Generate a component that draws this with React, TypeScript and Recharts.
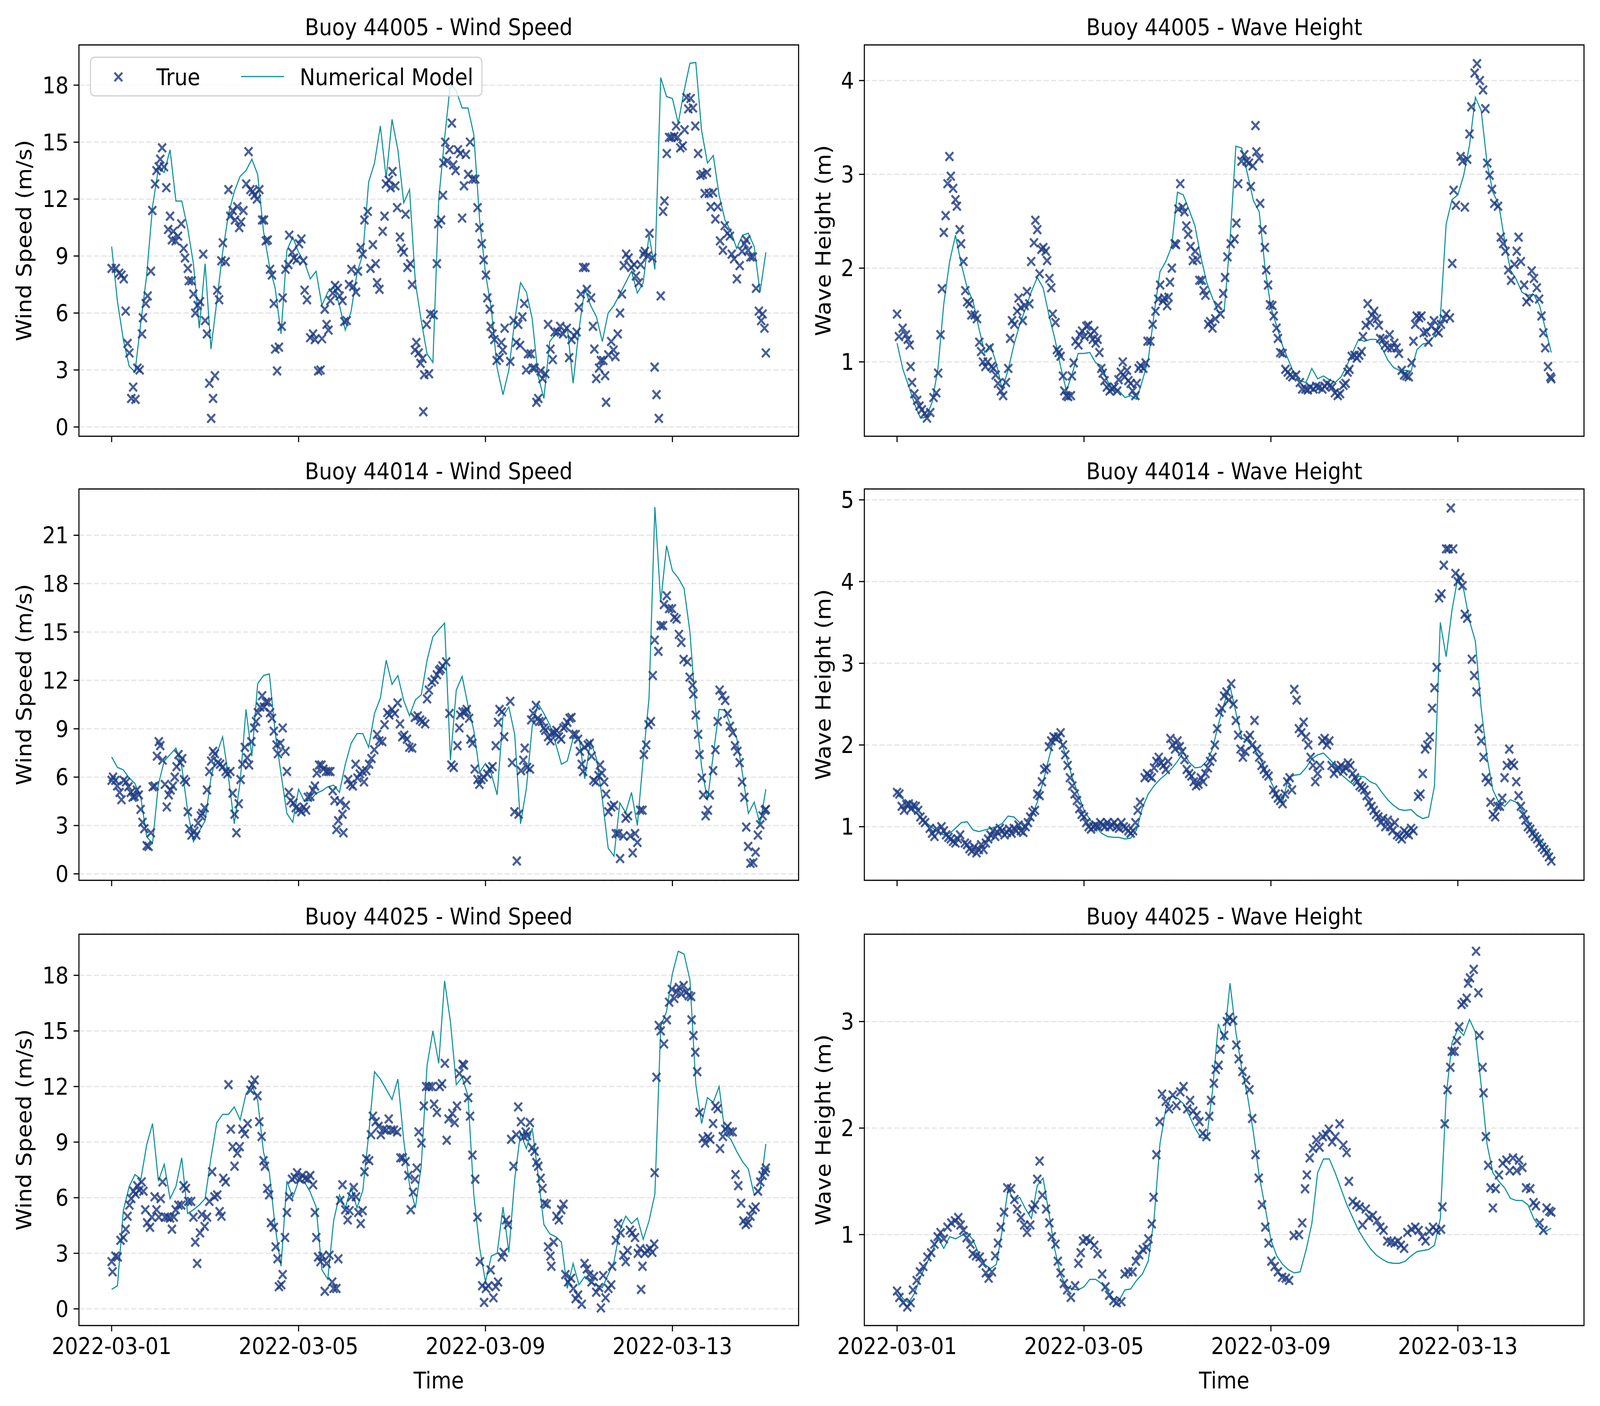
import { useLayoutEffect, useState } from "react";
import {
  ComposedChart,
  Scatter,
  Line,
  XAxis,
  YAxis,
  CartesianGrid,
  Legend,
} from "recharts";

// time axis is in days since 2022-03-01 00:00
const X_DOMAIN: [number, number] = [-0.7, 14.7];
const TICK_DAYS = [0, 4, 8, 12];
const TICK_LABELS = ["2022-03-01", "2022-03-05", "2022-03-09", "2022-03-13"];
const MODEL_STEP = 0.125; // model output every 3 h

const WIND_TICKS_18 = [0, 3, 6, 9, 12, 15, 18];
const WIND_TICKS_21 = [0, 3, 6, 9, 12, 15, 18, 21];
const WAVE_TICKS_4 = [1, 2, 3, 4];
const WAVE_TICKS_5 = [1, 2, 3, 4, 5];
const WAVE_TICKS_3 = [1, 2, 3];

// ---- Buoy 44005 ----
const MODEL_44005_WIND = [
  9.5, 6.6, 4.6, 3.2, 2.9, 5.5, 8.0, 11.6,
  13.6, 13.4, 14.6, 11.9, 11.9, 10.5, 8.6, 5.2,
  8.6, 4.1, 6.6, 9.2, 11.2, 12.4, 13.2, 13.5,
  14.1, 13.3, 10.3, 8.5, 7.3, 4.9, 9.3, 10.0,
  9.2, 8.7, 7.8, 8.2, 6.4, 7.1, 7.4, 6.4,
  5.1, 6.1, 8.1, 9.1, 12.9, 13.9, 15.85, 13.1,
  16.2, 14.6, 11.8, 12.5, 7.6, 5.6, 3.85, 3.4,
  12.0, 15.2, 18.1, 17.7, 16.8, 16.8, 15.4, 10.9,
  8.1, 6.2, 3.1, 1.7, 3.0, 5.6, 7.6, 7.1,
  5.7, 2.7, 1.5, 4.5, 4.9, 4.9, 5.3, 2.3,
  5.1, 7.3, 6.4, 5.8, 4.5, 6.0, 6.4, 7.0,
  7.6, 8.2, 7.05, 7.6, 10.1, 8.3, 18.4, 17.4,
  17.3, 16.0, 17.7, 19.15, 19.2, 15.6, 13.9, 14.3,
  12.2, 10.9, 10.3, 9.4, 10.1, 10.2, 9.5, 7.1,
  9.2,
];

const TRUE_44005_WIND: [number, number][] = [
  [0, 8.35], [0.09, 8.35], [0.16, 8.1], [0.21, 8.0], [0.26, 7.8], [0.3, 6.1], [0.34, 4.4], [0.38, 3.9],
  [0.42, 1.5], [0.46, 2.1], [0.51, 1.45], [0.55, 3.1], [0.6, 3.0], [0.65, 4.9], [0.67, 5.75], [0.73, 6.5],
  [0.77, 6.9], [0.84, 8.2], [0.87, 11.4], [0.93, 12.8], [0.96, 13.5], [1.01, 13.7], [1.04, 14.1], [1.08, 14.7],
  [1.12, 13.7], [1.17, 12.6], [1.21, 10.4], [1.25, 11.1], [1.29, 9.85], [1.32, 10.3], [1.37, 9.8], [1.42, 10.05],
  [1.49, 10.7], [1.54, 9.4], [1.57, 8.9], [1.63, 8.35], [1.65, 7.7], [1.71, 7.7], [1.75, 7.0], [1.79, 6.0],
  [1.84, 6.4], [1.89, 6.6], [1.96, 9.1], [2.0, 5.6], [2.04, 4.9], [2.09, 2.3], [2.13, 0.45], [2.17, 1.5],
  [2.21, 2.7], [2.26, 7.2], [2.3, 6.7], [2.35, 8.75], [2.38, 9.7], [2.44, 8.7], [2.5, 12.5], [2.54, 11.1],
  [2.59, 11.4], [2.64, 10.9], [2.69, 11.6], [2.73, 10.5], [2.77, 10.8], [2.82, 11.4], [2.88, 12.8], [2.93, 14.5],
  [2.97, 12.5], [3.02, 12.4], [3.06, 12.2], [3.11, 12.0], [3.16, 12.5], [3.22, 10.9], [3.26, 10.9], [3.3, 9.8],
  [3.34, 9.85], [3.39, 8.3], [3.43, 8.0], [3.47, 6.5], [3.5, 4.1], [3.54, 2.95], [3.58, 4.2], [3.64, 5.3],
  [3.66, 6.8], [3.72, 8.3], [3.78, 8.55], [3.8, 10.1], [3.86, 9.2], [3.9, 8.9], [3.96, 8.8], [4.01, 9.65],
  [4.06, 9.9], [4.1, 8.75], [4.13, 7.2], [4.18, 6.7], [4.25, 4.7], [4.31, 4.9], [4.35, 4.6], [4.42, 2.95],
  [4.47, 3.0], [4.5, 4.65], [4.56, 6.2], [4.6, 5.4], [4.64, 5.1], [4.68, 6.65], [4.73, 7.05], [4.78, 7.45],
  [4.84, 7.3], [4.88, 6.9], [4.94, 6.65], [4.98, 5.55], [5.03, 5.6], [5.08, 7.5], [5.13, 8.3], [5.17, 7.4],
  [5.23, 7.1], [5.27, 8.2], [5.33, 9.45], [5.37, 9.1], [5.41, 10.9], [5.48, 11.35], [5.54, 8.35], [5.59, 9.6],
  [5.65, 8.6], [5.68, 7.6], [5.73, 7.25], [5.8, 10.3], [5.84, 11.1], [5.87, 12.8], [5.93, 13.0], [5.97, 12.6],
  [6.01, 13.45], [6.07, 12.7], [6.11, 11.55], [6.17, 10.0], [6.2, 9.4], [6.25, 9.2], [6.29, 11.2], [6.33, 8.4],
  [6.39, 8.6], [6.43, 7.5], [6.49, 4.05], [6.52, 4.45], [6.57, 3.9], [6.61, 3.35], [6.65, 3.6], [6.67, 0.8],
  [6.69, 2.75], [6.74, 5.4], [6.79, 2.8], [6.82, 5.95], [6.89, 5.9], [6.96, 8.6], [6.99, 10.7], [7.05, 10.9],
  [7.09, 12.2], [7.1, 13.9], [7.14, 15.0], [7.18, 14.0], [7.23, 14.6], [7.28, 16.0], [7.31, 13.8], [7.36, 13.5],
  [7.41, 14.6], [7.46, 14.4], [7.5, 11.0], [7.54, 12.7], [7.58, 14.35], [7.63, 13.3], [7.67, 15.0], [7.72, 13.05],
  [7.78, 13.05], [7.83, 11.55], [7.87, 10.5], [7.92, 9.65], [7.96, 8.8], [8.01, 8.0], [8.04, 6.8], [8.09, 6.2],
  [8.11, 5.3], [8.15, 4.9], [8.19, 4.6], [8.24, 3.5], [8.3, 3.65], [8.34, 4.45], [8.37, 4.05], [8.41, 5.2],
  [8.53, 3.45], [8.6, 5.6], [8.66, 4.45], [8.7, 5.4], [8.74, 4.3], [8.79, 5.8], [8.83, 6.5], [8.87, 3.0],
  [8.91, 3.85], [8.97, 3.85], [9.01, 3.1], [9.05, 3.1], [9.09, 1.3], [9.13, 1.5], [9.18, 2.95], [9.22, 2.55],
  [9.28, 2.8], [9.34, 5.4], [9.39, 4.1], [9.44, 3.55], [9.48, 5.0], [9.54, 5.0], [9.6, 5.3], [9.66, 4.9],
  [9.74, 5.2], [9.79, 3.65], [9.84, 4.6], [9.9, 4.8], [9.95, 5.0], [10.0, 6.3], [10.04, 7.0], [10.09, 8.4],
  [10.14, 8.4], [10.17, 7.25], [10.26, 6.8], [10.3, 5.3], [10.33, 4.1], [10.37, 2.55], [10.43, 3.1], [10.47, 3.5],
  [10.52, 3.5], [10.56, 2.7], [10.58, 1.3], [10.63, 3.8], [10.69, 4.5], [10.74, 4.05], [10.78, 3.7], [10.83, 4.9],
  [10.88, 6.0], [10.92, 7.0], [10.96, 8.5], [11.01, 9.1], [11.06, 8.9], [11.12, 8.4], [11.18, 8.55], [11.22, 7.95],
  [11.28, 7.6], [11.32, 8.55], [11.38, 9.1], [11.41, 9.25], [11.47, 9.0], [11.51, 10.2], [11.57, 8.9], [11.62, 3.15],
  [11.66, 1.7], [11.71, 0.45], [11.75, 6.9], [11.8, 11.35], [11.83, 11.9], [11.88, 14.4], [11.93, 15.25], [11.98, 15.25],
  [12.04, 15.3], [12.08, 15.85], [12.11, 15.25], [12.17, 14.7], [12.22, 14.8], [12.26, 15.65], [12.3, 17.35], [12.34, 16.75],
  [12.39, 17.3], [12.44, 16.8], [12.49, 15.85], [12.55, 14.4], [12.6, 13.25], [12.65, 13.3], [12.69, 12.3], [12.74, 13.4],
  [12.78, 12.3], [12.82, 11.6], [12.87, 12.35], [12.92, 10.95], [12.97, 11.6], [13.02, 9.8], [13.08, 9.3], [13.12, 10.6],
  [13.18, 10.2], [13.23, 10.05], [13.27, 9.1], [13.32, 8.85], [13.38, 7.8], [13.44, 8.5], [13.49, 9.25], [13.54, 9.65],
  [13.58, 9.85], [13.62, 9.3], [13.67, 8.95], [13.72, 8.95], [13.79, 7.3], [13.85, 6.1], [13.9, 5.6], [13.93, 5.95],
  [13.97, 5.2], [14.0, 3.9],
];

const MODEL_44005_WAVE = [
  1.2, 0.92, 0.74, 0.55, 0.4, 0.41, 0.57, 0.93,
  1.62, 2.07, 2.35, 2.04, 1.79, 1.65, 1.36, 1.1,
  1.18, 0.98, 0.71, 0.91, 1.18, 1.4, 1.57, 1.75,
  1.9, 1.79, 1.5, 1.25, 0.95, 0.69, 0.88, 1.09,
  1.09, 1.1, 0.99, 0.96, 0.8, 0.7, 0.69, 0.62,
  0.64, 0.6, 0.8, 1.02, 1.51, 1.96, 2.07, 2.23,
  2.81, 2.78, 2.62, 2.45, 2.12, 1.85, 1.68, 1.53,
  1.54, 2.29, 3.3, 3.28, 3.0, 2.72, 2.6, 2.0,
  1.58, 1.38, 1.17, 1.02, 0.87, 0.8, 0.78, 0.93,
  0.82, 0.85, 0.81, 0.78, 0.84, 0.96, 1.1, 1.24,
  1.22, 1.24, 1.24, 1.15, 1.02, 0.94, 0.91, 0.91,
  0.9, 1.13, 1.19, 1.2, 1.28, 1.46, 2.47, 2.73,
  2.78, 2.99, 3.31, 3.82, 3.68, 3.12, 2.81, 2.68,
  2.3, 1.98, 1.88, 1.74, 1.71, 1.72, 1.6, 1.35,
  1.1,
];

const TRUE_44005_WAVE: [number, number][] = [
  [0, 1.51], [0.04, 1.27], [0.12, 1.36], [0.19, 1.29], [0.23, 1.24], [0.27, 1.18], [0.29, 0.95], [0.32, 0.78],
  [0.37, 0.66], [0.43, 0.59], [0.48, 0.53], [0.53, 0.49], [0.59, 0.45], [0.64, 0.4], [0.71, 0.46], [0.78, 0.62],
  [0.84, 0.67], [0.88, 0.88], [0.93, 1.29], [0.96, 1.78], [1.0, 2.38], [1.04, 2.56], [1.08, 2.9], [1.12, 3.19],
  [1.15, 2.98], [1.2, 2.85], [1.25, 2.73], [1.28, 2.66], [1.34, 2.41], [1.37, 2.26], [1.42, 2.07], [1.46, 1.76],
  [1.5, 1.64], [1.55, 1.62], [1.59, 1.5], [1.66, 1.5], [1.71, 1.46], [1.76, 1.21], [1.8, 1.11], [1.84, 1.0],
  [1.89, 0.95], [1.94, 1.0], [1.98, 1.15], [2.02, 0.95], [2.06, 0.93], [2.11, 0.86], [2.16, 0.77], [2.22, 0.69],
  [2.27, 0.64], [2.33, 0.78], [2.38, 0.93], [2.42, 1.25], [2.46, 1.44], [2.51, 1.4], [2.57, 1.54], [2.6, 1.68],
  [2.65, 1.58], [2.69, 1.44], [2.73, 1.6], [2.78, 1.75], [2.83, 1.62], [2.87, 2.07], [2.93, 2.27], [2.96, 2.51],
  [3.0, 2.41], [3.05, 1.94], [3.09, 2.2], [3.13, 2.22], [3.18, 2.18], [3.21, 2.08], [3.26, 1.89], [3.3, 1.79],
  [3.33, 1.51], [3.39, 1.42], [3.42, 1.13], [3.46, 1.1], [3.5, 1.06], [3.55, 0.85], [3.58, 0.69], [3.62, 0.64],
  [3.66, 0.63], [3.72, 0.64], [3.74, 0.85], [3.78, 0.99], [3.82, 1.22], [3.88, 1.18], [3.91, 1.29], [3.96, 1.33],
  [4.01, 1.27], [4.05, 1.38], [4.09, 1.39], [4.14, 1.29], [4.19, 1.24], [4.22, 1.33], [4.25, 1.2], [4.29, 1.24],
  [4.33, 1.1], [4.37, 0.93], [4.4, 0.88], [4.44, 0.8], [4.49, 0.73], [4.55, 0.69], [4.6, 0.71], [4.65, 0.73],
  [4.71, 0.69], [4.74, 0.81], [4.79, 0.89], [4.83, 1.0], [4.87, 0.84], [4.92, 0.91], [4.95, 0.8], [5.0, 0.77],
  [5.04, 0.69], [5.1, 0.64], [5.13, 0.77], [5.17, 0.93], [5.21, 0.96], [5.27, 0.93], [5.32, 0.99], [5.36, 1.22],
  [5.42, 1.22], [5.47, 1.4], [5.53, 1.54], [5.59, 1.67], [5.63, 1.82], [5.69, 1.65], [5.72, 1.68], [5.78, 1.6],
  [5.81, 1.69], [5.84, 1.85], [5.88, 2.0], [5.94, 2.26], [5.97, 2.25], [6.02, 2.63], [6.06, 2.9], [6.11, 2.65],
  [6.15, 2.6], [6.19, 2.45], [6.23, 2.36], [6.28, 2.23], [6.33, 2.08], [6.38, 2.18], [6.42, 2.09], [6.47, 1.87],
  [6.52, 1.87], [6.56, 1.76], [6.6, 1.71], [6.66, 1.4], [6.7, 1.43], [6.75, 1.36], [6.81, 1.46], [6.87, 1.6],
  [6.92, 1.51], [6.98, 1.73], [7.02, 1.9], [7.07, 2.12], [7.14, 2.26], [7.22, 2.31], [7.26, 2.48], [7.3, 2.9],
  [7.37, 3.14], [7.43, 3.21], [7.48, 3.14], [7.53, 3.12], [7.57, 2.87], [7.61, 3.09], [7.67, 3.52], [7.69, 3.24],
  [7.75, 3.17], [7.77, 2.69], [7.82, 2.41], [7.87, 2.22], [7.9, 1.98], [7.94, 1.82], [7.98, 1.61], [8.03, 1.6],
  [8.06, 1.49], [8.12, 1.36], [8.15, 1.25], [8.2, 1.1], [8.25, 1.09], [8.31, 0.92], [8.36, 0.89], [8.41, 0.86],
  [8.46, 0.84], [8.54, 0.86], [8.62, 0.78], [8.67, 0.71], [8.74, 0.71], [8.79, 0.7], [8.84, 0.73], [8.91, 0.71],
  [8.97, 0.74], [9.03, 0.73], [9.1, 0.71], [9.15, 0.74], [9.2, 0.77], [9.27, 0.75], [9.31, 0.73], [9.37, 0.67],
  [9.43, 0.64], [9.48, 0.66], [9.55, 0.75], [9.6, 0.77], [9.64, 0.89], [9.68, 0.92], [9.73, 1.06], [9.79, 1.07],
  [9.84, 1.04], [9.89, 1.07], [9.94, 1.11], [9.97, 1.27], [10.03, 1.39], [10.07, 1.62], [10.12, 1.42], [10.16, 1.5],
  [10.21, 1.54], [10.27, 1.46], [10.31, 1.39], [10.34, 1.25], [10.4, 1.24], [10.44, 1.18], [10.5, 1.15], [10.54, 1.29],
  [10.58, 1.15], [10.64, 1.2], [10.69, 1.15], [10.74, 1.09], [10.8, 0.91], [10.85, 0.86], [10.9, 0.85], [10.95, 0.84],
  [11.01, 0.99], [11.05, 1.22], [11.09, 1.4], [11.12, 1.49], [11.17, 1.47], [11.22, 1.49], [11.27, 1.31], [11.33, 1.32],
  [11.37, 1.21], [11.43, 1.38], [11.49, 1.44], [11.54, 1.33], [11.59, 1.31], [11.64, 1.4], [11.7, 1.46], [11.75, 1.51],
  [11.83, 1.47], [11.88, 2.05], [11.91, 2.83], [11.96, 2.67], [12.06, 3.19], [12.1, 3.14], [12.15, 2.65], [12.2, 3.16],
  [12.25, 3.43], [12.29, 3.72], [12.36, 4.08], [12.41, 4.18], [12.47, 4.0], [12.54, 3.9], [12.59, 3.7], [12.63, 3.12],
  [12.68, 2.99], [12.73, 2.84], [12.78, 2.69], [12.86, 2.66], [12.92, 2.33], [12.97, 2.26], [13.02, 2.18], [13.08, 1.98],
  [13.14, 1.87], [13.21, 2.04], [13.26, 2.18], [13.3, 2.33], [13.35, 2.07], [13.42, 1.82], [13.47, 1.64], [13.53, 1.68],
  [13.58, 1.97], [13.63, 1.89], [13.69, 1.79], [13.74, 1.67], [13.79, 1.49], [13.83, 1.31], [13.87, 1.15], [13.93, 0.95],
  [13.98, 0.84], [14.0, 0.82],
];

// ---- Buoy 44014 ----
const MODEL_44014_WIND = [
  7.25, 6.6, 6.45, 5.95, 5.6, 4.7, 2.3, 1.9,
  5.55, 7.0, 7.4, 7.8, 6.65, 3.95, 2.0, 2.65,
  3.3, 5.95, 7.45, 8.5, 6.0, 3.1, 5.7, 10.2,
  7.3, 11.8, 12.3, 12.4, 8.75, 6.2, 3.75, 3.2,
  5.25, 4.5, 4.55, 5.0, 5.15, 5.4, 5.5, 5.05,
  6.8, 8.1, 8.7, 8.7, 7.85, 9.95, 10.9, 13.25,
  11.75, 12.3, 10.75, 9.8, 10.8, 11.1, 13.25, 14.7,
  15.15, 15.55, 7.05, 11.4, 12.25, 10.45, 8.9, 6.3,
  6.85, 6.2, 4.9, 9.8, 10.35, 8.65, 3.1, 5.3,
  9.15, 10.55, 9.95, 9.25, 8.1, 6.8, 7.0, 8.4,
  8.45, 5.9, 8.25, 7.15, 4.65, 1.6, 1.1, 4.4,
  3.8, 5.05, 3.0, 7.15, 10.9, 22.75, 16.85, 20.35,
  18.8, 18.35, 17.7, 15.0, 10.1, 6.65, 4.55, 7.4,
  10.2, 10.15, 9.15, 8.45, 6.2, 3.75, 4.45, 3.1,
  5.25,
];

const TRUE_44014_WIND: [number, number][] = [
  [0, 5.8], [0.03, 6.0], [0.08, 5.8], [0.12, 5.45], [0.17, 5.05], [0.21, 4.6], [0.26, 5.8], [0.31, 5.7],
  [0.36, 5.4], [0.41, 5.05], [0.45, 4.75], [0.49, 4.8], [0.54, 5.2], [0.58, 4.9], [0.62, 4.0], [0.66, 3.2],
  [0.7, 2.8], [0.75, 1.75], [0.79, 1.7], [0.84, 2.55], [0.88, 5.4], [0.92, 5.45], [0.97, 7.3], [1.01, 8.2],
  [1.04, 7.95], [1.09, 7.05], [1.14, 5.55], [1.18, 4.15], [1.22, 4.9], [1.26, 5.2], [1.31, 5.45], [1.35, 6.0],
  [1.39, 6.65], [1.43, 7.4], [1.47, 6.9], [1.51, 7.15], [1.55, 5.85], [1.59, 5.7], [1.63, 3.85], [1.66, 2.8],
  [1.71, 2.4], [1.77, 2.65], [1.81, 2.4], [1.85, 3.15], [1.91, 3.6], [1.94, 3.75], [1.99, 4.1], [2.04, 5.2],
  [2.09, 6.35], [2.13, 7.0], [2.17, 7.6], [2.21, 7.45], [2.27, 6.9], [2.32, 6.8], [2.38, 6.65], [2.44, 6.35],
  [2.48, 6.2], [2.54, 6.35], [2.59, 5.0], [2.63, 3.7], [2.67, 2.55], [2.72, 4.35], [2.76, 5.85], [2.8, 6.8],
  [2.85, 7.85], [2.9, 7.2], [2.94, 6.75], [2.99, 8.2], [3.05, 9.05], [3.09, 9.45], [3.13, 10.0], [3.18, 10.35],
  [3.22, 11.05], [3.26, 10.35], [3.3, 10.65], [3.35, 10.65], [3.39, 10.0], [3.43, 9.65], [3.47, 8.85], [3.53, 8.0],
  [3.56, 7.45], [3.61, 8.1], [3.66, 9.05], [3.72, 7.6], [3.75, 6.35], [3.79, 5.05], [3.83, 4.55], [3.89, 4.4],
  [3.94, 4.1], [4.01, 4.0], [4.06, 3.85], [4.11, 4.15], [4.16, 3.95], [4.2, 4.75], [4.25, 4.8], [4.31, 5.2],
  [4.35, 5.45], [4.39, 6.25], [4.44, 6.75], [4.49, 6.75], [4.53, 6.5], [4.59, 6.35], [4.64, 6.35], [4.68, 6.35],
  [4.73, 5.15], [4.77, 4.55], [4.81, 2.75], [4.85, 3.3], [4.89, 4.5], [4.94, 3.7], [4.96, 2.55], [5.01, 4.25],
  [5.06, 5.85], [5.11, 5.55], [5.16, 5.45], [5.22, 6.8], [5.26, 5.95], [5.31, 6.2], [5.37, 6.35], [5.4, 5.7],
  [5.45, 6.4], [5.51, 6.8], [5.56, 7.15], [5.62, 7.7], [5.68, 8.65], [5.73, 8.25], [5.79, 8.2], [5.84, 9.25],
  [5.9, 10.0], [5.94, 9.85], [6.0, 10.2], [6.06, 9.95], [6.12, 10.6], [6.17, 9.3], [6.22, 8.5], [6.26, 8.6],
  [6.32, 8.35], [6.37, 7.85], [6.43, 7.8], [6.49, 9.7], [6.55, 9.8], [6.6, 9.55], [6.65, 9.45], [6.71, 9.3],
  [6.75, 10.85], [6.79, 11.4], [6.85, 11.9], [6.91, 12.05], [6.96, 12.35], [7.01, 12.6], [7.04, 12.7], [7.08, 12.9],
  [7.16, 13.15], [7.23, 9.95], [7.27, 6.75], [7.32, 6.6], [7.4, 7.95], [7.44, 9.05], [7.46, 9.85], [7.51, 10.05],
  [7.57, 10.05], [7.6, 10.2], [7.65, 9.65], [7.68, 8.35], [7.72, 8.1], [7.77, 6.5], [7.83, 5.85], [7.87, 5.55],
  [7.91, 5.85], [7.96, 6.0], [8.04, 6.2], [8.09, 6.5], [8.15, 6.65], [8.22, 7.95], [8.27, 9.4], [8.3, 10.2],
  [8.35, 10.05], [8.4, 8.5], [8.53, 10.7], [8.57, 6.9], [8.62, 3.85], [8.67, 0.8], [8.71, 3.7], [8.76, 6.4],
  [8.81, 7.05], [8.84, 7.8], [8.89, 6.6], [8.95, 6.5], [8.98, 9.55], [9.02, 9.95], [9.08, 10.45], [9.12, 9.65],
  [9.15, 9.45], [9.21, 9.45], [9.25, 9.05], [9.28, 8.9], [9.34, 8.5], [9.39, 8.25], [9.43, 8.75], [9.48, 8.75],
  [9.52, 8.9], [9.57, 8.5], [9.62, 8.35], [9.67, 9.05], [9.71, 9.15], [9.75, 9.4], [9.8, 9.65], [9.84, 9.7],
  [9.88, 8.65], [9.93, 8.65], [9.98, 8.35], [10.02, 7.6], [10.06, 6.8], [10.09, 6.35], [10.12, 7.85], [10.19, 8.0],
  [10.23, 8.1], [10.27, 7.3], [10.31, 5.8], [10.36, 5.7], [10.42, 6.1], [10.45, 6.75], [10.49, 6.25], [10.54, 5.7],
  [10.58, 4.95], [10.63, 3.85], [10.69, 4.15], [10.75, 4.25], [10.79, 2.5], [10.84, 2.5], [10.88, 0.95], [10.95, 2.35],
  [11.0, 3.45], [11.05, 3.6], [11.1, 2.35], [11.15, 1.3], [11.2, 2.5], [11.25, 1.95], [11.31, 3.95], [11.36, 3.95],
  [11.39, 7.4], [11.44, 8.0], [11.49, 9.25], [11.54, 9.45], [11.58, 12.3], [11.62, 14.5], [11.7, 13.8], [11.75, 15.4],
  [11.8, 15.4], [11.82, 16.7], [11.88, 17.25], [11.93, 16.45], [11.99, 16.45], [12.04, 15.9], [12.09, 15.8], [12.14, 14.85],
  [12.19, 14.35], [12.24, 13.3], [12.32, 13.15], [12.37, 12.2], [12.43, 11.7], [12.45, 11.15], [12.5, 9.85], [12.55, 8.65],
  [12.58, 7.4], [12.63, 5.95], [12.66, 4.9], [12.71, 3.6], [12.76, 3.95], [12.8, 4.9], [12.87, 6.4], [12.92, 7.7],
  [12.97, 9.45], [13.01, 11.4], [13.07, 11.05], [13.13, 10.75], [13.18, 9.95], [13.23, 9.15], [13.29, 8.75], [13.34, 7.95],
  [13.39, 7.6], [13.44, 6.9], [13.49, 5.7], [13.54, 4.75], [13.58, 2.9], [13.62, 1.7], [13.67, 0.65], [13.73, 0.7],
  [13.78, 1.35], [13.83, 2.4], [13.88, 3.05], [13.93, 3.6], [13.98, 3.95], [14.0, 4.0],
];

const MODEL_44014_WAVE = [
  1.39, 1.34, 1.28, 1.19, 1.11, 1.05, 0.99, 0.93,
  0.9, 0.92, 0.98, 1.05, 1.06, 0.96, 0.94, 0.96,
  0.98, 1.0, 1.04, 1.13, 1.12, 1.05, 0.98, 1.12,
  1.3, 1.55, 1.84, 2.13, 2.06, 1.85, 1.6, 1.4,
  1.2, 1.09, 1.0, 0.92, 0.88, 0.87, 0.87, 0.85,
  0.86, 0.96, 1.23, 1.4, 1.5, 1.58, 1.64, 1.71,
  1.8, 1.91, 1.79, 1.72, 1.73, 1.8, 1.95, 2.25,
  2.51, 2.72, 2.4, 2.09, 2.05, 1.97, 1.86, 1.7,
  1.55, 1.4, 1.3, 1.6, 1.63, 1.64, 1.72, 1.83,
  1.88, 1.9, 1.83, 1.75, 1.64, 1.58, 1.52, 1.62,
  1.61, 1.55, 1.52, 1.42, 1.33, 1.26, 1.21, 1.2,
  1.21, 1.14, 1.1, 1.12, 1.5, 3.5, 3.08, 3.65,
  4.05, 3.9, 3.52, 3.27, 2.45, 1.85, 1.45, 1.3,
  1.25, 1.33, 1.3, 1.2, 1.08, 0.95, 0.85, 0.76,
  0.65,
];

const TRUE_44014_WAVE: [number, number][] = [
  [0, 1.42], [0.05, 1.4], [0.1, 1.25], [0.15, 1.2], [0.2, 1.27], [0.25, 1.28], [0.3, 1.22], [0.35, 1.26],
  [0.4, 1.25], [0.45, 1.2], [0.5, 1.12], [0.55, 1.08], [0.6, 1.05], [0.7, 0.98], [0.75, 0.92], [0.8, 0.88],
  [0.85, 0.97], [0.95, 1.0], [1.0, 0.95], [1.05, 0.9], [1.1, 0.87], [1.15, 0.85], [1.2, 0.82], [1.25, 0.8],
  [1.3, 0.85], [1.35, 0.9], [1.45, 0.8], [1.5, 0.78], [1.55, 0.73], [1.6, 0.7], [1.65, 0.75], [1.7, 0.68],
  [1.75, 0.72], [1.8, 0.78], [1.85, 0.72], [1.9, 0.8], [1.95, 0.85], [2.0, 0.9], [2.05, 0.95], [2.1, 0.88],
  [2.15, 0.93], [2.2, 0.98], [2.25, 0.95], [2.3, 0.9], [2.35, 0.93], [2.4, 0.97], [2.45, 0.92], [2.5, 0.98],
  [2.55, 0.95], [2.6, 1.02], [2.65, 0.95], [2.7, 0.93], [2.75, 1.0], [2.8, 1.05], [2.85, 1.12], [2.9, 1.18],
  [2.95, 1.2], [3.0, 1.4], [3.05, 1.38], [3.1, 1.55], [3.15, 1.7], [3.2, 1.72], [3.25, 1.98], [3.3, 2.05],
  [3.35, 2.1], [3.4, 2.08], [3.45, 2.1], [3.5, 2.15], [3.55, 2.0], [3.6, 1.88], [3.65, 1.75], [3.7, 1.6],
  [3.75, 1.5], [3.8, 1.4], [3.85, 1.32], [3.9, 1.22], [3.95, 1.15], [4.0, 1.12], [4.05, 1.05], [4.1, 1.0],
  [4.15, 0.97], [4.2, 1.0], [4.25, 1.02], [4.3, 1.0], [4.35, 1.05], [4.4, 1.02], [4.45, 1.0], [4.5, 1.05],
  [4.55, 1.0], [4.6, 1.02], [4.65, 1.05], [4.7, 1.0], [4.75, 0.98], [4.8, 1.05], [4.85, 1.0], [4.9, 0.98],
  [4.95, 0.95], [5.0, 0.92], [5.05, 0.95], [5.1, 1.05], [5.15, 1.2], [5.2, 1.3], [5.3, 1.6], [5.35, 1.65],
  [5.4, 1.62], [5.45, 1.6], [5.5, 1.72], [5.55, 1.8], [5.6, 1.85], [5.65, 1.78], [5.7, 1.75], [5.75, 1.7],
  [5.8, 1.8], [5.85, 2.08], [5.9, 2.0], [5.95, 1.95], [6.0, 2.05], [6.05, 1.98], [6.1, 1.92], [6.15, 1.82],
  [6.2, 1.7], [6.25, 1.65], [6.3, 1.62], [6.35, 1.55], [6.4, 1.5], [6.45, 1.52], [6.5, 1.6], [6.55, 1.55],
  [6.6, 1.65], [6.65, 1.72], [6.7, 1.8], [6.75, 1.85], [6.8, 2.0], [6.85, 2.2], [6.9, 2.4], [6.95, 2.45],
  [7.0, 2.6], [7.05, 2.65], [7.1, 2.55], [7.15, 2.75], [7.2, 2.5], [7.25, 2.3], [7.3, 2.12], [7.35, 1.95],
  [7.4, 1.85], [7.45, 1.92], [7.5, 2.08], [7.55, 2.12], [7.6, 2.0], [7.65, 2.3], [7.7, 1.95], [7.75, 1.85],
  [7.8, 1.75], [7.85, 1.7], [7.9, 1.65], [7.95, 1.62], [8.05, 1.45], [8.1, 1.4], [8.15, 1.35], [8.2, 1.32],
  [8.25, 1.28], [8.3, 1.4], [8.35, 1.55], [8.4, 1.6], [8.45, 1.45], [8.5, 2.68], [8.55, 2.55], [8.6, 2.2],
  [8.65, 2.15], [8.7, 2.28], [8.75, 2.1], [8.8, 2.0], [8.85, 1.85], [8.9, 1.75], [8.95, 1.55], [9.0, 1.65],
  [9.05, 1.75], [9.1, 2.05], [9.15, 2.08], [9.2, 2.0], [9.25, 2.05], [9.3, 1.75], [9.35, 1.65], [9.4, 1.7],
  [9.45, 1.72], [9.5, 1.75], [9.55, 1.68], [9.6, 1.72], [9.65, 1.78], [9.7, 1.75], [9.75, 1.65], [9.8, 1.6],
  [9.85, 1.55], [9.9, 1.5], [9.95, 1.48], [10.0, 1.45], [10.05, 1.38], [10.1, 1.3], [10.15, 1.25], [10.2, 1.2],
  [10.25, 1.15], [10.3, 1.12], [10.35, 1.05], [10.4, 1.1], [10.45, 1.0], [10.5, 1.08], [10.55, 1.0], [10.6, 0.95],
  [10.65, 1.05], [10.7, 0.9], [10.75, 0.88], [10.8, 0.85], [10.85, 0.95], [10.9, 0.92], [10.95, 0.9], [11.0, 0.98],
  [11.05, 0.95], [11.15, 1.37], [11.2, 1.4], [11.25, 1.65], [11.3, 1.95], [11.35, 2.0], [11.4, 2.1], [11.45, 2.45],
  [11.5, 2.7], [11.55, 2.95], [11.6, 3.8], [11.65, 3.85], [11.7, 4.2], [11.75, 4.4], [11.8, 4.4], [11.85, 4.9],
  [11.9, 4.4], [11.95, 4.1], [12.0, 4.0], [12.05, 4.05], [12.1, 3.95], [12.15, 3.6], [12.2, 3.55], [12.3, 3.05],
  [12.35, 2.85], [12.4, 2.65], [12.45, 2.2], [12.5, 2.05], [12.55, 1.85], [12.6, 1.6], [12.65, 1.55], [12.7, 1.3],
  [12.75, 1.15], [12.8, 1.12], [12.85, 1.25], [12.9, 1.25], [12.95, 1.35], [13.0, 1.6], [13.05, 1.75], [13.1, 1.95],
  [13.15, 1.78], [13.2, 1.75], [13.25, 1.55], [13.3, 1.38], [13.35, 1.25], [13.4, 1.15], [13.45, 1.08], [13.5, 1.0],
  [13.55, 0.97], [13.6, 0.92], [13.65, 0.88], [13.7, 0.85], [13.75, 0.8], [13.8, 0.75], [13.85, 0.72], [13.9, 0.68],
  [13.95, 0.63], [14.0, 0.58],
];

// ---- Buoy 44025 ----
const MODEL_44025_WIND = [
  1.05, 1.25, 5.3, 6.6, 7.25, 7.0, 8.85, 10.0,
  6.9, 7.8, 5.95, 6.6, 8.15, 5.15, 5.35, 5.6,
  5.95, 8.15, 10.05, 10.5, 10.5, 10.9, 10.2, 11.6,
  12.1, 11.25, 8.45, 7.35, 4.4, 2.3, 6.9, 6.0,
  6.9, 6.85, 6.3, 5.5, 2.1, 1.6, 4.75, 6.15,
  5.45, 6.55, 5.45, 6.4, 9.4, 12.8, 12.4, 11.85,
  11.3, 12.4, 9.1, 6.7, 5.45, 7.7, 13.15, 15.0,
  13.25, 17.7, 15.5, 12.1, 12.5, 11.5, 6.15, 3.3,
  1.45, 2.85, 3.0, 5.5, 3.05, 7.0, 9.5, 8.65,
  9.75, 7.25, 4.55, 4.05, 3.9, 3.6, 1.1, 2.45,
  1.3, 1.75, 1.4, 1.3, 1.15, 1.85, 2.55, 4.25,
  5.0, 4.6, 4.9, 3.75, 4.75, 6.2, 15.25, 16.05,
  18.1, 19.3, 19.15, 17.75, 12.15, 10.0, 11.4, 11.15,
  12.0, 9.45, 9.15, 8.5, 7.95, 7.55, 6.15, 6.4,
  8.9,
];

const TRUE_44025_WIND: [number, number][] = [
  [0, 2.55], [0.02, 2.0], [0.08, 2.85], [0.13, 2.8], [0.19, 3.7], [0.25, 3.85], [0.3, 4.3], [0.34, 5.0],
  [0.38, 5.6], [0.42, 5.95], [0.47, 6.35], [0.51, 6.2], [0.55, 6.65], [0.59, 6.4], [0.64, 6.85], [0.68, 6.35],
  [0.72, 5.35], [0.76, 4.65], [0.82, 4.4], [0.86, 4.95], [0.92, 6.05], [0.96, 5.35], [1.01, 4.95], [1.05, 5.95],
  [1.09, 6.85], [1.14, 4.95], [1.2, 4.95], [1.25, 4.9], [1.29, 4.3], [1.33, 4.95], [1.37, 5.35], [1.43, 5.6],
  [1.49, 5.6], [1.54, 6.65], [1.59, 6.5], [1.64, 5.8], [1.7, 5.8], [1.75, 4.95], [1.79, 3.6], [1.83, 2.45],
  [1.89, 4.1], [1.93, 5.1], [1.99, 4.45], [2.04, 4.95], [2.09, 5.8], [2.15, 7.4], [2.2, 6.05], [2.26, 6.15],
  [2.31, 5.25], [2.35, 5.0], [2.39, 7.05], [2.44, 6.85], [2.5, 12.1], [2.55, 9.7], [2.59, 8.75], [2.63, 7.7],
  [2.69, 8.4], [2.74, 8.75], [2.8, 9.7], [2.85, 9.45], [2.91, 10.0], [2.97, 11.8], [3.01, 12.1], [3.06, 12.35],
  [3.12, 11.5], [3.16, 10.1], [3.21, 9.3], [3.25, 8.0], [3.28, 7.7], [3.33, 6.5], [3.37, 6.15], [3.41, 4.65],
  [3.47, 4.4], [3.51, 3.35], [3.55, 2.7], [3.58, 1.2], [3.63, 1.3], [3.66, 1.85], [3.71, 3.85], [3.75, 5.2],
  [3.8, 6.05], [3.86, 7.0], [3.92, 7.1], [3.97, 7.35], [4.03, 7.0], [4.08, 7.2], [4.14, 7.05], [4.2, 7.0],
  [4.25, 7.2], [4.31, 6.7], [4.35, 5.2], [4.38, 3.85], [4.42, 2.8], [4.47, 2.55], [4.51, 2.85], [4.56, 0.95],
  [4.6, 2.45], [4.66, 2.9], [4.72, 1.45], [4.75, 1.1], [4.81, 1.1], [4.85, 2.7], [4.89, 5.85], [4.94, 6.7],
  [5.0, 5.35], [5.05, 4.8], [5.09, 5.3], [5.13, 6.05], [5.18, 6.55], [5.23, 6.05], [5.28, 5.2], [5.33, 4.6],
  [5.37, 5.3], [5.41, 7.4], [5.45, 8.1], [5.51, 8.0], [5.55, 9.4], [5.59, 10.4], [5.65, 10.1], [5.71, 9.85],
  [5.76, 9.4], [5.82, 9.7], [5.88, 9.65], [5.93, 10.25], [5.98, 9.65], [6.04, 9.65], [6.11, 9.55], [6.18, 8.15],
  [6.23, 8.15], [6.29, 7.95], [6.35, 7.2], [6.4, 5.35], [6.45, 6.3], [6.49, 7.0], [6.53, 7.6], [6.57, 9.55],
  [6.63, 8.95], [6.68, 10.95], [6.73, 12.0], [6.79, 12.0], [6.85, 12.0], [6.9, 11.05], [6.96, 10.6], [7.02, 12.0],
  [7.07, 12.15], [7.13, 13.25], [7.17, 9.1], [7.21, 10.25], [7.29, 10.55], [7.34, 10.05], [7.39, 10.95], [7.44, 12.7],
  [7.51, 13.2], [7.54, 13.15], [7.6, 12.35], [7.63, 11.4], [7.67, 10.4], [7.72, 8.3], [7.78, 7.0], [7.83, 4.95],
  [7.88, 2.55], [7.93, 1.25], [7.97, 0.35], [8.01, 1.1], [8.06, 1.25], [8.11, 2.1], [8.17, 0.6], [8.22, 1.2],
  [8.27, 1.45], [8.35, 2.8], [8.39, 3.05], [8.44, 4.8], [8.48, 4.55], [8.55, 9.15], [8.6, 7.7], [8.66, 9.4],
  [8.7, 10.9], [8.76, 10.1], [8.82, 9.3], [8.86, 9.55], [8.89, 9.35], [8.95, 10.05], [9.0, 8.7], [9.05, 8.5],
  [9.09, 7.9], [9.13, 7.7], [9.18, 7.05], [9.22, 6.5], [9.26, 5.7], [9.31, 5.65], [9.34, 3.35], [9.39, 2.85],
  [9.41, 2.3], [9.46, 3.6], [9.52, 5.0], [9.57, 4.8], [9.62, 5.35], [9.67, 5.65], [9.71, 1.85], [9.77, 1.45],
  [9.83, 1.65], [9.88, 1.1], [9.93, 0.55], [9.98, 0.75], [10.06, 0.25], [10.12, 2.45], [10.17, 2.15], [10.22, 1.85],
  [10.27, 1.45], [10.32, 1.75], [10.37, 0.9], [10.43, 1.15], [10.47, 0.05], [10.52, 1.8], [10.57, 0.6], [10.63, 1.1],
  [10.69, 1.3], [10.71, 2.3], [10.79, 3.7], [10.84, 4.6], [10.89, 4.1], [10.95, 2.9], [11.0, 2.55], [11.04, 3.15],
  [11.09, 4.25], [11.14, 4.1], [11.2, 3.85], [11.26, 3.0], [11.31, 3.25], [11.33, 1.05], [11.36, 2.3], [11.41, 3.0],
  [11.46, 3.15], [11.52, 3.25], [11.57, 3.05], [11.61, 3.5], [11.62, 7.35], [11.66, 12.5], [11.71, 15.3], [11.75, 15.0],
  [11.82, 14.3], [11.88, 15.6], [11.93, 16.55], [11.99, 17.25], [12.04, 16.75], [12.09, 17.1], [12.14, 17.35], [12.19, 17.0],
  [12.24, 17.45], [12.3, 17.1], [12.35, 16.9], [12.4, 16.85], [12.41, 15.6], [12.45, 14.75], [12.49, 13.85], [12.53, 12.8],
  [12.58, 10.6], [12.65, 9.2], [12.7, 8.95], [12.76, 9.3], [12.81, 9.15], [12.87, 10.0], [12.92, 10.95], [12.97, 10.8],
  [13.02, 8.65], [13.08, 9.3], [13.13, 9.7], [13.18, 9.85], [13.23, 9.55], [13.29, 9.55], [13.35, 7.25], [13.41, 6.65],
  [13.47, 5.7], [13.52, 4.75], [13.57, 4.55], [13.62, 4.65], [13.67, 5.0], [13.72, 5.35], [13.78, 5.5], [13.83, 6.35],
  [13.88, 6.85], [13.93, 7.2], [13.98, 7.4], [14.0, 7.6],
];

const MODEL_44025_WAVE = [
  0.48, 0.4, 0.36, 0.45, 0.6, 0.72, 0.84, 0.97,
  0.87, 0.98, 0.96, 0.99, 1.02, 0.95, 0.82, 0.72,
  0.68, 0.72, 1.04, 1.43, 1.32, 1.35, 1.24, 1.15,
  1.46, 1.53, 1.2, 0.86, 0.62, 0.51, 0.49, 0.48,
  0.51, 0.58, 0.58, 0.54, 0.47, 0.4, 0.38, 0.48,
  0.49, 0.57, 0.63, 0.75, 1.15, 1.85, 2.18, 2.3,
  2.28, 2.23, 2.12, 2.0, 1.91, 1.9, 2.35, 2.98,
  2.82, 3.36, 2.9, 2.56, 2.3, 1.96, 1.55, 1.26,
  0.95, 0.8, 0.72, 0.67, 0.64, 0.65, 0.85, 1.1,
  1.58, 1.71, 1.71, 1.58, 1.43, 1.28, 1.16, 1.04,
  0.95, 0.87, 0.81, 0.77, 0.74, 0.73, 0.73, 0.75,
  0.8, 0.84, 0.85, 0.86, 0.9, 1.15, 2.3, 2.8,
  2.93, 2.87, 3.02, 2.9, 2.4, 1.85, 1.58, 1.5,
  1.44, 1.34, 1.32, 1.32, 1.28, 1.15, 1.07, 1.03,
  1.06,
];

const TRUE_44025_WAVE: [number, number][] = [
  [0, 0.47], [0.05, 0.41], [0.13, 0.36], [0.22, 0.32], [0.29, 0.36], [0.34, 0.48], [0.42, 0.57], [0.49, 0.65],
  [0.56, 0.7], [0.65, 0.79], [0.73, 0.83], [0.8, 0.91], [0.87, 0.98], [0.93, 1.02], [1.0, 0.96], [1.08, 1.07],
  [1.16, 1.11], [1.24, 1.13], [1.31, 1.16], [1.36, 1.09], [1.42, 1.04], [1.49, 0.97], [1.57, 0.91], [1.62, 0.82],
  [1.69, 0.8], [1.77, 0.79], [1.83, 0.73], [1.9, 0.64], [1.96, 0.59], [2.03, 0.65], [2.1, 0.8], [2.16, 0.92],
  [2.22, 1.07], [2.29, 1.21], [2.36, 1.44], [2.44, 1.43], [2.51, 1.33], [2.57, 1.24], [2.65, 1.16], [2.72, 1.09],
  [2.78, 1.02], [2.85, 1.09], [2.9, 1.24], [2.95, 1.28], [3.0, 1.52], [3.05, 1.69], [3.11, 1.37], [3.19, 1.24],
  [3.26, 1.11], [3.31, 0.98], [3.39, 0.91], [3.44, 0.75], [3.5, 0.64], [3.57, 0.54], [3.64, 0.48], [3.72, 0.41],
  [3.81, 0.52], [3.88, 0.73], [3.93, 0.83], [3.98, 0.94], [4.05, 0.96], [4.13, 0.94], [4.22, 0.9], [4.29, 0.82],
  [4.39, 0.63], [4.46, 0.51], [4.54, 0.43], [4.63, 0.38], [4.7, 0.36], [4.8, 0.37], [4.87, 0.63], [4.95, 0.65],
  [5.04, 0.65], [5.11, 0.75], [5.18, 0.81], [5.26, 0.86], [5.34, 0.88], [5.38, 0.96], [5.45, 1.1], [5.49, 1.35],
  [5.55, 1.75], [5.62, 2.06], [5.67, 2.32], [5.75, 2.25], [5.82, 2.18], [5.9, 2.31], [5.98, 2.21], [6.06, 2.34],
  [6.13, 2.39], [6.21, 2.18], [6.27, 2.26], [6.34, 2.16], [6.41, 2.12], [6.47, 2.06], [6.54, 1.95], [6.62, 1.92],
  [6.68, 2.11], [6.72, 2.26], [6.78, 2.42], [6.82, 2.55], [6.88, 2.59], [6.92, 2.74], [7.0, 2.87], [7.06, 3.0],
  [7.11, 3.04], [7.19, 3.01], [7.26, 2.78], [7.31, 2.65], [7.39, 2.53], [7.47, 2.45], [7.54, 2.36], [7.6, 2.09],
  [7.67, 1.75], [7.74, 1.53], [7.81, 1.28], [7.88, 1.07], [7.95, 0.92], [8.01, 0.75], [8.08, 0.7], [8.15, 0.65],
  [8.24, 0.6], [8.32, 0.59], [8.39, 0.57], [8.49, 0.99], [8.6, 1.0], [8.67, 1.11], [8.73, 1.43], [8.77, 1.56],
  [8.83, 1.72], [8.9, 1.81], [8.97, 1.89], [9.04, 1.82], [9.11, 1.92], [9.18, 1.94], [9.24, 1.99], [9.31, 1.87],
  [9.38, 1.92], [9.47, 2.04], [9.55, 1.84], [9.62, 1.77], [9.67, 1.5], [9.75, 1.31], [9.83, 1.28], [9.9, 1.26],
  [9.96, 1.09], [10.03, 1.24], [10.1, 1.16], [10.18, 1.18], [10.27, 1.13], [10.34, 1.07], [10.41, 1.04], [10.49, 0.94],
  [10.57, 0.93], [10.65, 0.92], [10.72, 0.94], [10.78, 0.9], [10.85, 0.87], [10.92, 1.02], [11.01, 1.05], [11.09, 1.07],
  [11.16, 1.04], [11.24, 0.98], [11.31, 0.94], [11.39, 1.03], [11.47, 1.07], [11.54, 1.04], [11.64, 1.05], [11.67, 1.26],
  [11.72, 2.04], [11.78, 2.36], [11.84, 2.57], [11.87, 2.72], [11.93, 2.72], [11.98, 2.82], [12.03, 2.95], [12.08, 3.16],
  [12.13, 3.18], [12.19, 3.22], [12.22, 3.36], [12.26, 3.41], [12.34, 3.49], [12.39, 3.66], [12.44, 3.27], [12.46, 2.87],
  [12.53, 2.57], [12.55, 2.33], [12.6, 1.92], [12.65, 1.65], [12.7, 1.44], [12.75, 1.25], [12.81, 1.43], [12.88, 1.56],
  [12.96, 1.67], [13.04, 1.7], [13.11, 1.6], [13.18, 1.72], [13.26, 1.6], [13.31, 1.7], [13.38, 1.63], [13.46, 1.44],
  [13.55, 1.43], [13.62, 1.3], [13.67, 1.27], [13.75, 1.11], [13.83, 1.04], [13.9, 1.25], [13.96, 1.22], [14.0, 1.21],
];

// ---- styling / layout ----
const TRUE_COLOR = "#1f3c84";
const MODEL_COLOR = "#0b919b";
const FONT = "DejaVu Sans";
const FONT_SIZE = 58;

const FIG_W = 4500;
const FIG_H = 3600;
const AX_W = 2024;
const AX_H = 1002;
const COL_X = [222, 2431];
const ROW_Y = [115, 1252, 2392];
const Y_AXIS_W = 200;
const X_AXIS_H = 130;
const PAD = 10;

const PANELS = [
  { title: "Buoy 44005 - Wind Speed", yLabel: "Wind Speed (m/s)", truth: TRUE_44005_WIND, model: MODEL_44005_WIND, domain: [-0.49, 20.12], ticks: WIND_TICKS_18, row: 0, col: 0, legend: true },
  { title: "Buoy 44005 - Wave Height", yLabel: "Wave Height (m)", truth: TRUE_44005_WAVE, model: MODEL_44005_WAVE, domain: [0.207, 4.38], ticks: WAVE_TICKS_4, row: 0, col: 1 },
  { title: "Buoy 44014 - Wind Speed", yLabel: "Wind Speed (m/s)", truth: TRUE_44014_WIND, model: MODEL_44014_WIND, domain: [-0.4, 23.87], ticks: WIND_TICKS_21, row: 1, col: 0 },
  { title: "Buoy 44014 - Wave Height", yLabel: "Wave Height (m)", truth: TRUE_44014_WAVE, model: MODEL_44014_WAVE, domain: [0.344, 5.133], ticks: WAVE_TICKS_5, row: 1, col: 1 },
  { title: "Buoy 44025 - Wind Speed", yLabel: "Wind Speed (m/s)", truth: TRUE_44025_WIND, model: MODEL_44025_WIND, domain: [-0.9, 20.22], ticks: WIND_TICKS_18, row: 2, col: 0 },
  { title: "Buoy 44025 - Wave Height", yLabel: "Wave Height (m)", truth: TRUE_44025_WAVE, model: MODEL_44025_WAVE, domain: [0.146, 3.82], ticks: WAVE_TICKS_3, row: 2, col: 1 },
];

const tickStyle = { fontSize: FONT_SIZE, fill: "#000", fontFamily: FONT };

const XGlyph = ({ cx, cy }: { cx: number; cy: number }) => {
  const s = 11;
  return (
    <path
      d={`M${cx - s},${cy - s}L${cx + s},${cy + s}M${cx - s},${cy + s}L${cx + s},${cy - s}`}
      stroke={TRUE_COLOR}
      strokeOpacity={0.82}
      strokeWidth={5.5}
      fill="none"
    />
  );
};

const XMark = (props: any) => {
  if (props.cx == null || props.cy == null) return null;
  return <XGlyph cx={props.cx} cy={props.cy} />;
};

const LegendBox = () => (
  <svg width={1104} height={102} style={{ display: "block", overflow: "visible" }}>
    <rect x={1.5} y={1.5} width={1101} height={99} rx={12} fill="#fff" fillOpacity={0.8} stroke="#d0d0d0" strokeWidth={3} />
    <XGlyph cx={80} cy={52} />
    <text x={187} y={73} fontSize={FONT_SIZE} fontFamily={FONT} fill="#000">True</text>
    <line x1={425} x2={546} y1={51} y2={51} stroke={MODEL_COLOR} strokeWidth={3} />
    <text x={590} y={73} fontSize={FONT_SIZE} fontFamily={FONT} fill="#000">Numerical Model</text>
  </svg>
);

function Panel({ panel }: { panel: (typeof PANELS)[number] }) {
  const axLeft = COL_X[panel.col];
  const axTop = ROW_Y[panel.row];
  const showDates = panel.row === 2;

  const scatterData = panel.truth.map(([d, v]) => ({ x: d, y: v }));
  const lineData = panel.model.map((v, i) => ({ x: i * MODEL_STEP, y: v }));

  return (
    <div style={{ position: "absolute", left: axLeft - Y_AXIS_W, top: axTop - PAD }}>
      <ComposedChart
        width={Y_AXIS_W + AX_W + PAD}
        height={PAD + AX_H + X_AXIS_H}
        margin={{ top: PAD, right: PAD, bottom: 0, left: 0 }}
      >
        <CartesianGrid vertical={false} stroke="#e4e4e4" strokeDasharray="15 6" strokeWidth={3} />
        <XAxis
          type="number"
          dataKey="x"
          domain={X_DOMAIN}
          allowDataOverflow
          ticks={TICK_DAYS}
          interval={0}
          height={X_AXIS_H}
          axisLine={false}
          tickLine={{ stroke: "#000", strokeWidth: 3 }}
          tickSize={15}
          tickMargin={17}
          tick={tickStyle}
          tickFormatter={(v: number) => (showDates ? TICK_LABELS[TICK_DAYS.indexOf(v)] ?? "" : "")}
        />
        <YAxis
          type="number"
          dataKey="y"
          domain={panel.domain}
          allowDataOverflow
          ticks={panel.ticks}
          interval={0}
          width={Y_AXIS_W}
          axisLine={false}
          tickLine={{ stroke: "#000", strokeWidth: 3 }}
          tickSize={15}
          tickMargin={14}
          tick={tickStyle}
        />
        <Scatter name="True" data={scatterData} shape={XMark} fill={TRUE_COLOR} isAnimationActive={false} />
        <Line
          name="Numerical Model"
          data={lineData}
          dataKey="y"
          type="linear"
          stroke={MODEL_COLOR}
          strokeWidth={3}
          dot={false}
          activeDot={false}
          isAnimationActive={false}
        />
        {panel.legend && (
          <Legend
            layout="horizontal"
            verticalAlign="middle"
            align="center"
            wrapperStyle={{ left: 253 - (axLeft - Y_AXIS_W), top: 145 - (axTop - PAD), width: 1104, height: 102 }}
            content={() => <LegendBox />}
          />
        )}
      </ComposedChart>
    </div>
  );
}

export default function App() {
  // the viewport may not be exactly 4500x3600, so stretch the figure onto it
  const [scale, setScale] = useState({ x: 1, y: 1 });
  useLayoutEffect(() => {
    document.body.style.overflow = "hidden";
    const fit = () => {
      const w = window.innerWidth || FIG_W;
      const h = window.innerHeight || FIG_H;
      setScale({ x: w / FIG_W, y: h / FIG_H });
    };
    fit();
    window.addEventListener("resize", fit);
    return () => window.removeEventListener("resize", fit);
  }, []);

  return (
    <div
      style={{
        position: "absolute",
        left: 0,
        top: 0,
        width: FIG_W,
        height: FIG_H,
        background: "#fff",
        fontFamily: FONT,
        transform: `scale(${scale.x}, ${scale.y})`,
        transformOrigin: "0 0",
      }}
    >
      {PANELS.map((p) => (
        <Panel key={p.title} panel={p} />
      ))}
      <svg
        width={FIG_W}
        height={FIG_H}
        style={{ position: "absolute", left: 0, top: 0, pointerEvents: "none" }}
      >
        {PANELS.map((p) => {
          const x0 = COL_X[p.col];
          const y0 = ROW_Y[p.row];
          const labelX = p.col === 0 ? 68 : 2316;
          const cy = y0 + AX_H / 2;
          return (
            <g key={p.title}>
              <rect x={x0} y={y0} width={AX_W} height={AX_H} fill="none" stroke="#000" strokeWidth={3} />
              <text x={x0 + AX_W / 2} y={y0 - 25} textAnchor="middle" fontSize={FONT_SIZE} fontFamily={FONT} fill="#000">
                {p.title}
              </text>
              <text
                x={labelX}
                y={cy}
                transform={`rotate(-90, ${labelX}, ${cy})`}
                textAnchor="middle"
                dominantBaseline="central"
                fontSize={FONT_SIZE}
                fontFamily={FONT}
                fill="#000"
              >
                {p.yLabel}
              </text>
            </g>
          );
        })}
        {COL_X.map((x0) => (
          <text key={x0} x={x0 + AX_W / 2} y={3555} textAnchor="middle" fontSize={FONT_SIZE} fontFamily={FONT} fill="#000">
            Time
          </text>
        ))}
      </svg>
    </div>
  );
}
